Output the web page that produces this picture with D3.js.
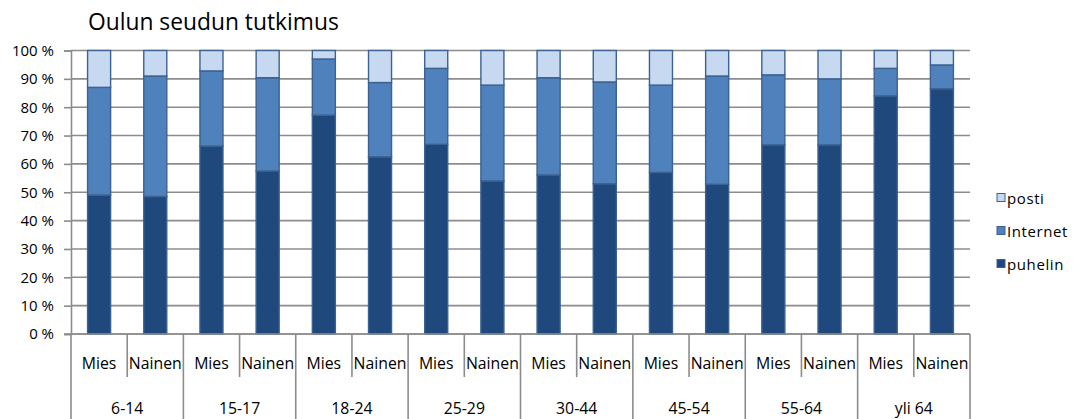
<!DOCTYPE html>
<html>
<head>
<meta charset="utf-8">
<script src="https://cdn.jsdelivr.net/npm/d3@7"></script>
<style>
  html, body { margin: 0; padding: 0; background: #fff; }
  svg { display: block; font-family: "Open Sans", "DejaVu Sans", sans-serif; }
</style>
</head>
<body>
<svg id="chart" width="1078" height="419"></svg>
<script>
// Age groups and sexes along the x axis
const ageGroups = ["6-14", "15-17", "18-24", "25-29", "30-44", "45-54", "55-64", "yli 64"];
const sexes = ["Mies", "Nainen"];

// Share of answers by channel (%), one value per bar (Mies, Nainen per age group)
const puhelin  = [49, 48.5, 66.3, 57.5, 77.2, 62.5, 66.9, 54, 56.1, 53, 57, 52.8, 66.7, 66.7, 84, 86.5];
const internet = [38, 42.5, 26.5, 32.9, 19.8, 26.2, 26.8, 33.8, 34.3, 35.9, 30.8, 38.2, 24.7, 23.3, 9.7, 8.4];
const posti    = [13, 9, 7.2, 9.6, 3, 11.3, 6.3, 12.2, 9.6, 11.1, 12.2, 9, 8.6, 10, 6.3, 5.1];

const yTicks = [0, 10, 20, 30, 40, 50, 60, 70, 80, 90, 100];
const seriesNames = ["puhelin", "Internet", "posti"];
const seriesColors = { puhelin: "#1f497d", Internet: "#4f81bd", posti: "#c6d9f1" };
const title = "Oulun seudun tutkimus";

const svg = d3.select("#chart");
const margin = { left: 71, right: 108, top: 50.5, bottom: 85 };
const W = 1078, H = 419;
const x0 = margin.left, x1 = W - margin.right;
const y0 = H - margin.bottom, y1 = margin.top;

// one band per bar
const keys = [];
ageGroups.forEach(g => sexes.forEach(s => keys.push(g + "|" + s)));
const x = d3.scaleBand().domain(keys).range([x0, x1]).paddingInner(0.59).paddingOuter(0.295);
const y = d3.scaleLinear().domain([0, 100]).range([y0, y1]);

// rows for stacking
const rows = keys.map((k, i) => ({ key: k, puhelin: puhelin[i], Internet: internet[i], posti: posti[i] }));
const stack = d3.stack().keys(seriesNames)(rows);

// horizontal gridlines
svg.append("g")
  .selectAll("line")
  .data(yTicks)
  .join("line")
  .attr("x1", x0).attr("x2", x1)
  .attr("y1", d => y(d)).attr("y2", d => y(d))
  .attr("stroke", "#8c8c8c").attr("stroke-width", 1.6);

// y axis
const yAxis = d3.axisLeft(y).tickValues(yTicks).tickSize(7).tickPadding(10).tickFormat(d => d + " %");
const gy = svg.append("g").attr("transform", `translate(${x0},0)`).call(yAxis);
gy.select(".domain").attr("stroke", "#8c8c8c").attr("stroke-width", 1.6);
gy.selectAll(".tick line").attr("stroke", "#8c8c8c").attr("stroke-width", 1.6);
gy.selectAll(".tick text").attr("font-size", 15).attr("fill", "#000")
  .attr("font-family", "'Open Sans', sans-serif");

// stacked bars
svg.append("g")
  .selectAll("g")
  .data(stack)
  .join("g")
  .attr("fill", d => seriesColors[d.key])
  .selectAll("rect")
  .data(d => d)
  .join("rect")
  .attr("x", d => x(d.data.key))
  .attr("width", x.bandwidth())
  .attr("y", d => y(d[1]))
  .attr("height", d => y(d[0]) - y(d[1]))
  .attr("stroke", "#3b6290")
  .attr("stroke-width", 1.4);

// x axis: baseline, separators and labels
const gx = svg.append("g");
gx.append("line").attr("x1", x0 - 7).attr("x2", x1).attr("y1", y0).attr("y2", y0)
  .attr("stroke", "#8c8c8c").attr("stroke-width", 1.6);

const step = x.step();
const groupW = step * sexes.length;
// group boundaries reach the bottom, sex boundaries stop below the labels
d3.range(ageGroups.length + 1).forEach(i => {
  const xx = x0 + i * groupW;
  gx.append("line").attr("x1", xx).attr("x2", xx).attr("y1", y0).attr("y2", H)
    .attr("stroke", "#8c8c8c").attr("stroke-width", 1.6);
});
ageGroups.forEach((g, i) => {
  const xx = x0 + i * groupW + step;
  gx.append("line").attr("x1", xx).attr("x2", xx).attr("y1", y0).attr("y2", y0 + 43)
    .attr("stroke", "#8c8c8c").attr("stroke-width", 1.6);
});

gx.selectAll("text.sex")
  .data(keys)
  .join("text")
  .attr("class", "sex")
  .attr("x", d => x(d) + x.bandwidth() / 2)
  .attr("y", y0 + 35)
  .attr("text-anchor", "middle")
  .attr("font-size", 15.8)
  .attr("fill", "#000")
  .text(d => d.split("|")[1]);

gx.selectAll("text.grp")
  .data(ageGroups)
  .join("text")
  .attr("class", "grp")
  .attr("x", (d, i) => x0 + i * groupW + groupW / 2)
  .attr("y", y0 + 80)
  .attr("text-anchor", "middle")
  .attr("font-size", 15.8)
  .attr("fill", "#000")
  .text(d => d);

// title
svg.append("text")
  .attr("x", 88).attr("y", 30)
  .attr("font-size", 22.8)
  .attr("fill", "#000")
  .text(title);

// legend (posti on top)
const legendItems = seriesNames.slice().reverse();
const lg = svg.append("g").attr("transform", "translate(997,0)");
legendItems.forEach((name, i) => {
  const base = 204 + i * 33;
  lg.append("rect").attr("x", 0).attr("y", base - 10.5).attr("width", 8).attr("height", 8)
    .attr("fill", seriesColors[name]).attr("stroke", "#3b6290").attr("stroke-width", 1);
  lg.append("text").attr("x", 10).attr("y", base)
    .attr("font-size", 15).attr("fill", "#000").attr("letter-spacing", 0.6)
    .text(name);
});
</script>
</body>
</html>
